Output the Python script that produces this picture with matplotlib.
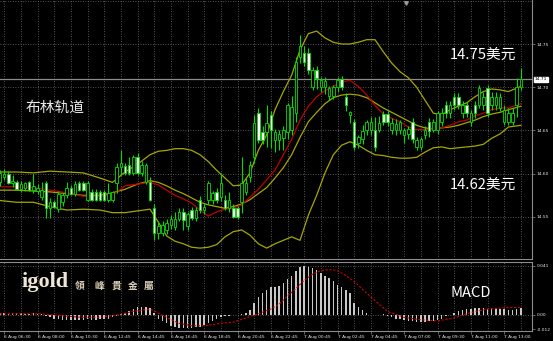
import matplotlib
matplotlib.use('Agg')
import matplotlib.pyplot as plt
from matplotlib.patches import Rectangle

# ---------------- data ----------------
opens = [14.590, 14.596, 14.600, 14.589, 14.590, 14.582, 14.583, 14.590, 14.581, 14.580,
         14.573, 14.589, 14.560, 14.567, 14.559, 14.567, 14.575, 14.584, 14.577, 14.589,
         14.589, 14.570, 14.579, 14.579, 14.579, 14.579, 14.570, 14.570, 14.589, 14.608,
         14.609, 14.610, 14.601, 14.619, 14.601, 14.591, 14.591, 14.560, 14.532, 14.532,
         14.535, 14.541, 14.538, 14.548, 14.556, 14.540, 14.558, 14.549, 14.570, 14.558,
         14.570, 14.570, 14.579, 14.573, 14.570, 14.560, 14.560, 14.560, 14.567, 14.579,
         14.596, 14.619, 14.670, 14.648, 14.648, 14.668, 14.639, 14.639, 14.641, 14.648,
         14.651, 14.670, 14.735, 14.740, 14.740, 14.700, 14.720, 14.700, 14.700, 14.690,
         14.690, 14.700, 14.710, 14.689, 14.668, 14.660, 14.636, 14.640, 14.651, 14.651,
         14.651, 14.651, 14.669, 14.669, 14.651, 14.650, 14.651, 14.645, 14.646, 14.660,
         14.631, 14.631, 14.645, 14.660, 14.651, 14.651, 14.660, 14.679, 14.670, 14.689,
         14.689, 14.670, 14.679, 14.660, 14.679, 14.680, 14.679, 14.699, 14.679, 14.679,
         14.676, 14.660, 14.660, 14.660, 14.679, 14.700]
highs = [14.604, 14.605, 14.603, 14.598, 14.593, 14.592, 14.590, 14.592, 14.600, 14.588,
         14.590, 14.592, 14.572, 14.570, 14.580, 14.578, 14.590, 14.587, 14.592, 14.592,
         14.592, 14.592, 14.582, 14.582, 14.581, 14.581, 14.589, 14.580, 14.612, 14.627,
         14.612, 14.619, 14.622, 14.624, 14.615, 14.612, 14.596, 14.565, 14.545, 14.545,
         14.548, 14.552, 14.556, 14.560, 14.560, 14.556, 14.562, 14.562, 14.574, 14.566,
         14.592, 14.580, 14.583, 14.601, 14.575, 14.579, 14.565, 14.563, 14.619, 14.595,
         14.615, 14.668, 14.676, 14.655, 14.679, 14.673, 14.652, 14.650, 14.655, 14.682,
         14.690, 14.735, 14.760, 14.748, 14.745, 14.724, 14.725, 14.712, 14.712, 14.702,
         14.703, 14.712, 14.713, 14.693, 14.672, 14.663, 14.645, 14.656, 14.662, 14.666,
         14.666, 14.667, 14.672, 14.672, 14.664, 14.663, 14.662, 14.653, 14.655, 14.665,
         14.642, 14.643, 14.655, 14.664, 14.663, 14.672, 14.676, 14.684, 14.684, 14.693,
         14.693, 14.684, 14.683, 14.674, 14.684, 14.703, 14.695, 14.703, 14.695, 14.695,
         14.693, 14.679, 14.676, 14.676, 14.711, 14.722]
lows = [14.586, 14.593, 14.588, 14.585, 14.581, 14.579, 14.580, 14.580, 14.578, 14.577,
        14.570, 14.549, 14.549, 14.560, 14.556, 14.563, 14.572, 14.575, 14.574, 14.580,
        14.580, 14.568, 14.568, 14.568, 14.568, 14.568, 14.567, 14.567, 14.578, 14.600,
        14.598, 14.599, 14.598, 14.598, 14.597, 14.588, 14.568, 14.523, 14.525, 14.528,
        14.530, 14.536, 14.535, 14.545, 14.535, 14.535, 14.546, 14.545, 14.555, 14.553,
        14.565, 14.565, 14.566, 14.568, 14.558, 14.556, 14.549, 14.548, 14.555, 14.575,
        14.590, 14.612, 14.636, 14.634, 14.631, 14.630, 14.625, 14.628, 14.628, 14.640,
        14.645, 14.660, 14.728, 14.725, 14.715, 14.697, 14.698, 14.695, 14.692, 14.685,
        14.686, 14.695, 14.697, 14.672, 14.659, 14.628, 14.630, 14.634, 14.645, 14.645,
        14.626, 14.648, 14.656, 14.655, 14.646, 14.645, 14.646, 14.636, 14.640, 14.636,
        14.628, 14.627, 14.640, 14.643, 14.648, 14.646, 14.655, 14.665, 14.665, 14.674,
        14.675, 14.664, 14.666, 14.655, 14.665, 14.676, 14.674, 14.666, 14.674, 14.674,
        14.672, 14.656, 14.656, 14.656, 14.666, 14.697]
closes = [14.601, 14.600, 14.589, 14.592, 14.582, 14.588, 14.589, 14.581, 14.586, 14.584,
          14.581, 14.560, 14.567, 14.562, 14.577, 14.575, 14.584, 14.577, 14.588, 14.581,
          14.581, 14.589, 14.570, 14.570, 14.570, 14.570, 14.578, 14.579, 14.608, 14.612,
          14.601, 14.601, 14.619, 14.601, 14.610, 14.610, 14.570, 14.532, 14.540, 14.541,
          14.543, 14.548, 14.548, 14.556, 14.547, 14.553, 14.549, 14.558, 14.558, 14.562,
          14.589, 14.578, 14.570, 14.589, 14.560, 14.570, 14.550, 14.550, 14.589, 14.589,
          14.610, 14.659, 14.639, 14.639, 14.659, 14.651, 14.648, 14.646, 14.650, 14.679,
          14.677, 14.729, 14.748, 14.729, 14.720, 14.720, 14.711, 14.708, 14.707, 14.699,
          14.700, 14.708, 14.700, 14.679, 14.671, 14.631, 14.642, 14.649, 14.660, 14.660,
          14.631, 14.659, 14.660, 14.660, 14.659, 14.658, 14.660, 14.651, 14.652, 14.640,
          14.639, 14.640, 14.651, 14.649, 14.660, 14.670, 14.670, 14.670, 14.679, 14.679,
          14.679, 14.679, 14.670, 14.670, 14.670, 14.699, 14.689, 14.670, 14.689, 14.689,
          14.689, 14.674, 14.670, 14.670, 14.700, 14.710]

band_idx = [0, 4, 8, 12, 16, 20, 24, 27, 30, 33, 36, 38, 40, 42, 44, 46, 48, 50, 52, 54,
            56, 58, 60, 62, 64, 66, 68, 70, 72, 74, 76, 78, 80, 82, 84, 86, 88, 90, 92, 94,
            96, 98, 100, 102, 104, 106, 108, 110, 112, 114, 116, 118, 120, 122, 125]
bb_upper = [14.602, 14.602, 14.601, 14.603, 14.602, 14.601, 14.595, 14.590, 14.602, 14.611,
            14.622, 14.626, 14.627, 14.629, 14.629, 14.627, 14.622, 14.614, 14.604, 14.595,
            14.586, 14.587, 14.601, 14.627, 14.645, 14.674, 14.695, 14.714, 14.743, 14.762,
            14.765, 14.757, 14.752, 14.750, 14.750, 14.752, 14.755, 14.755, 14.741, 14.728,
            14.718, 14.711, 14.700, 14.685, 14.670, 14.668, 14.674, 14.678, 14.682, 14.689,
            14.695, 14.698, 14.697, 14.695, 14.701]
bb_mid = [14.585, 14.585, 14.584, 14.581, 14.578, 14.574, 14.574, 14.575, 14.586, 14.588,
          14.590, 14.587, 14.581, 14.575, 14.571, 14.566, 14.558, 14.551, 14.556, 14.559,
          14.560, 14.564, 14.573, 14.582, 14.593, 14.604, 14.622, 14.640, 14.662, 14.678,
          14.689, 14.696, 14.701, 14.706, 14.708, 14.701, 14.691, 14.679, 14.669, 14.664,
          14.660, 14.654, 14.651, 14.651, 14.652, 14.653, 14.656, 14.660, 14.662, 14.667,
          14.670, 14.674, 14.676, 14.676, 14.681]
ma_slow = [14.581, 14.581, 14.580, 14.579, 14.577, 14.575, 14.575, 14.578, 14.582, 14.588,
           14.592, 14.590, 14.586, 14.581, 14.577, 14.572, 14.567, 14.564, 14.562, 14.560,
           14.562, 14.565, 14.570, 14.577, 14.584, 14.595, 14.607, 14.622, 14.642, 14.660,
           14.671, 14.681, 14.688, 14.691, 14.692, 14.691, 14.688, 14.682, 14.676, 14.671,
           14.666, 14.661, 14.656, 14.653, 14.652, 14.653, 14.654, 14.656, 14.659, 14.662,
           14.666, 14.669, 14.671, 14.674, 14.678]
bb_lower = [14.569, 14.567, 14.567, 14.562, 14.558, 14.559, 14.558, 14.555, 14.555, 14.557,
            14.559, 14.544, 14.528, 14.522, 14.519, 14.515, 14.514, 14.515, 14.518, 14.527,
            14.533, 14.535, 14.529, 14.519, 14.514, 14.519, 14.523, 14.527, 14.523, 14.552,
            14.575, 14.601, 14.622, 14.633, 14.637, 14.633, 14.627, 14.622, 14.621, 14.619,
            14.618, 14.618, 14.619, 14.625, 14.630, 14.631, 14.629, 14.630, 14.631, 14.632,
            14.634, 14.641, 14.646, 14.654, 14.656]

macd_hist = [0.002, 0.002, 0.001, 0.002, 0.002, 0.002, 0.001, 0.001, 0.002, 0.001, 0.001,
             -0.001, -0.002, -0.003, -0.003, -0.004, -0.004, -0.004, -0.004, -0.004, -0.004,
             -0.003, -0.004, -0.004, -0.003, -0.003, -0.003, -0.002, -0.001,
             0.001, 0.002, 0.003, 0.005, 0.007, 0.007, 0.007, 0.006, 0.002,
             -0.003, -0.005, -0.007, -0.009, -0.010, -0.011, -0.011, -0.011, -0.011, -0.010,
             -0.010, -0.008, -0.007, -0.005, -0.003,
             -0.002, -0.001, -0.001, 0.000, 0.000, 0.001,
             0.002, 0.004, 0.010, 0.015, 0.018, 0.021,
             0.023, 0.023, 0.024, 0.027, 0.030, 0.033, 0.037, 0.040, 0.041, 0.040,
             0.039, 0.038, 0.035, 0.033, 0.031, 0.028, 0.025, 0.023, 0.021, 0.018,
             0.010, 0.007, 0.004, 0.002, 0.000, 0.000, 0.000, 0.001, -0.001, -0.002,
             -0.003, -0.003, -0.004, -0.005, -0.005, -0.006, -0.006, -0.006, -0.005, -0.005,
             -0.004, -0.003, -0.001, 0.000, 0.002, 0.003, 0.004, 0.005, 0.005, 0.006,
             0.006, 0.006, 0.005, 0.006, 0.006, 0.005, 0.005, 0.004, 0.004, 0.005, 0.006]
sig_idx = [0, 10, 16, 20, 24, 28, 32, 36, 40, 43, 46, 49, 52, 56, 59, 62, 65, 67, 69, 71,
           73, 75, 77, 79, 81, 83, 85, 89, 93, 97, 101, 105, 109, 113, 117, 121, 125]
macd_signal = [0.001, 0.001, -0.001, -0.002, -0.002, 0.000, 0.003, 0.005, -0.002, -0.007,
               -0.009, -0.009, -0.0075, -0.006, -0.0025, 0.001, 0.005, 0.009, 0.016, 0.022,
               0.029, 0.034, 0.037, 0.038, 0.037, 0.033, 0.028, 0.015, 0.003, -0.002,
               -0.004, -0.005, -0.0025, 0.002, 0.005, 0.006, 0.0065]

price_ticks = [14.55, 14.60, 14.65, 14.70, 14.75]
price_labels = ["14.55", "14.60", "14.65", "14.70", "14.75"]
macd_ticks = [-0.012, 0.0, 0.041]
macd_labels = ["-0.012", "0.00", "0.041"]
time_labels = ["6 Aug 06:30", "6 Aug 08:00", "6 Aug 10:30", "6 Aug 12:45", "6 Aug 14:45",
               "6 Aug 16:45", "6 Aug 18:45", "6 Aug 20:45", "6 Aug 22:45", "7 Aug 00:45",
               "7 Aug 02:45", "7 Aug 04:45", "7 Aug 07:00", "7 Aug 09:30", "7 Aug 11:00",
               "7 Aug 13:00"]
last_price = 14.71

# ---------------- figure ----------------
W, H = 553, 341
fig = plt.figure(figsize=(W / 100, H / 100), dpi=100, facecolor='black')

def fy(py):
    return 1 - py / H

ax = fig.add_axes([0, fy(259), 532 / W, 259 / H])
ax2 = fig.add_axes([0, fy(331), 532 / W, (331 - 262) / H])

XMAX = 532 / 4.1667
GRID = '#6e6e6e'
TXT = '#e8e8e8'
SMALL = 3.2

for a in (ax, ax2):
    a.set_facecolor('black')
    a.set_xlim(0, XMAX)
    for s in ('left', 'top'):
        a.spines[s].set_visible(False)
    for s in ('right', 'bottom'):
        a.spines[s].set_color('#8c8c8c')
        a.spines[s].set_linewidth(0.8)
    for k in range(0, 32):
        a.axvline(1 + 4 * k, color=GRID, lw=0.6, ls=(0, (1, 2)), zorder=0)

ax2.spines['top'].set_visible(True)
ax2.spines['top'].set_color('#8c8c8c')

ax.set_ylim(14.5014, 14.8009)
for p in price_ticks + [14.80]:
    ax.axhline(p, color=GRID, lw=0.6, ls=(0, (1, 2)), zorder=0)

# price line
ax.axhline(last_price, color='#8a8a8a', lw=0.9, zorder=1)

# bands
ax.plot(band_idx, bb_upper, color='#a6a600', lw=0.9, zorder=2)
ax.plot(band_idx, bb_lower, color='#a6a600', lw=0.9, zorder=2)
ax.plot(band_idx, ma_slow, color='#a6a600', lw=0.9, zorder=2)
ax.plot(band_idx, bb_mid, color='#c00000', lw=0.9, zorder=2)

# candles
bw = 0.62
for i, (o, h, l, c) in enumerate(zip(opens, highs, lows, closes)):
    ax.vlines(i, l, h, color='#00e000', lw=0.8, zorder=3)
    lo, hi = min(o, c), max(o, c)
    fc = 'white' if c < o else 'black'
    ax.add_patch(Rectangle((i - bw / 2, lo), bw, max(hi - lo, 0.0004), facecolor=fc,
                           edgecolor='#00e000', lw=0.6, zorder=4))

ax.yaxis.tick_right()
ax.set_yticks(price_ticks)
ax.set_yticklabels(price_labels, fontsize=SMALL, color=TXT)
ax.tick_params(axis='y', length=2, width=0.5, color='#8c8c8c', pad=1.5)
ax.set_xticks([])

# last price box
fig.text(534.5 / W, fy(79.5), "14.71", fontsize=SMALL, color='black', va='center', ha='left',
         bbox=dict(boxstyle='square,pad=0.15', facecolor='white', edgecolor='white'))

# chart shift marker
ax.plot([97.4], [14.797], marker='v', color='#9a9a9a', markersize=2.5, zorder=5)

# MACD
ax2.set_ylim(-0.0134, 0.0443)
ax2.axhline(0.0, color=GRID, lw=0.6, ls=(0, (1, 2)), zorder=0)
ax2.axhline(0.041, color=GRID, lw=0.6, ls=(0, (1, 2)), zorder=0)
ax2.bar(range(len(macd_hist)), macd_hist, width=0.35, color='#c8c8c8', zorder=2)
ax2.plot(sig_idx, macd_signal, color='#d00000', lw=0.8, ls=(0, (2, 1.5)), zorder=3)
ax2.yaxis.tick_right()
ax2.set_yticks(macd_ticks)
ax2.set_yticklabels(macd_labels, fontsize=SMALL, color=TXT)
ax2.tick_params(axis='y', length=2, width=0.5, color='#8c8c8c', pad=1.5)
tpos = [1 + 8 * k for k in range(len(time_labels))]
ax2.set_xticks(tpos)
ax2.set_xticklabels(time_labels, fontsize=SMALL, color=TXT, ha='left')
ax2.tick_params(axis='x', length=2, width=0.5, color='#8c8c8c', pad=1)

# overlay texts
cjk = ['Noto Sans CJK SC', 'DejaVu Sans']
fig.text(26 / W, fy(108), "布林轨道", fontsize=10.6, color=TXT, family=cjk, va='center', ha='left')
fig.text(450 / W, fy(55), "14.75美元", fontsize=10.6, color='white', family=cjk, va='center', ha='left')
fig.text(450 / W, fy(185), "14.62美元", fontsize=10.6, color='white', family=cjk, va='center', ha='left')
fig.text(450 / W, fy(293), "MACD", fontsize=10.6, color='white', family=cjk, va='center', ha='left')

fig.text(22 / W, fy(282), "igold", fontsize=16, color='#efe6d6', family='Liberation Serif',
         weight='bold', va='center', ha='left')
for ch, xc in zip("領峰貴金屬", [80, 99, 116, 133, 149]):
    fig.text(xc / W, fy(286), ch, fontsize=7, color='#dccfb8', family=['Noto Sans CJK TC'],
             weight='bold', va='center', ha='center')

fig.savefig('out.png', dpi=100, facecolor='black')
